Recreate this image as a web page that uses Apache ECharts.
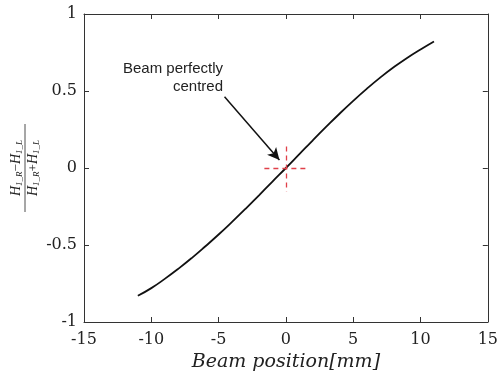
<!DOCTYPE html>
<html><head><meta charset="utf-8">
<script src="https://cdn.jsdelivr.net/npm/echarts@6/dist/echarts.min.js"></script>
<style>html,body{margin:0;padding:0;background:#fff}#c{width:501px;height:380px}</style>
</head><body><div id="c"></div>
<script>
var positions = [-11,-10,-9,-8,-7,-6,-5,-4,-3,-2,-1,0,1,2,3,4,5,6,7,8,9,10,11];
var ratio = [-0.83,-0.78,-0.72,-0.655,-0.585,-0.51,-0.432,-0.35,-0.265,-0.177,-0.088,0,0.09,0.18,0.268,0.354,0.436,0.514,0.587,0.654,0.715,0.77,0.822];
var xTicks = [-15,-10,-5,0,5,10,15];
var yTicks = [-1,-0.5,0,0.5,1];
var arrowFrom = [-4.56, 0.463];
var arrowTo = [-0.48, 0.052];
var crossH = [[-1.6, 0], [1.5, 0]];
var crossV = [[0, 0.14], [0, -0.155]];

var chart = echarts.init(document.getElementById('c'));
var serif = 'DejaVu Serif';
var axisBase = {
  type: 'value',
  axisLine: {show: true, onZero: false, lineStyle: {color: '#333', width: 1}},
  axisTick: {show: true, inside: true, length: 5, lineStyle: {color: '#333'}},
  splitLine: {show: false}
};
var fracRich = {
  h: {fontFamily: 'Liberation Serif', fontStyle: 'italic', fontSize: 14, fill: '#222', lineHeight: 15},
  s: {fontFamily: 'Liberation Serif', fontStyle: 'italic', fontSize: 9, fill: '#222', verticalAlign: 'bottom', lineHeight: 11},
  o: {fontFamily: 'Liberation Serif', fontSize: 13, fill: '#222', lineHeight: 15}
};
chart.setOption({
  animation: false,
  grid: {left: 84, right: 12, top: 14, bottom: 58},
  xAxis: [
    Object.assign({}, axisBase, {
      min: -15, max: 15, interval: 5, position: 'bottom',
      axisLabel: {color: '#222', fontFamily: serif, fontSize: 16, margin: 10},
      name: 'Beam position[mm]', nameLocation: 'middle', nameGap: 29,
      nameTextStyle: {color: '#222', fontFamily: serif, fontStyle: 'italic', fontSize: 19}
    }),
    Object.assign({}, axisBase, {
      min: -15, max: 15, interval: 5, position: 'top',
      axisLabel: {show: false}
    })
  ],
  yAxis: [
    Object.assign({}, axisBase, {
      min: -1, max: 1, interval: 0.5, position: 'left',
      axisLabel: {color: '#222', fontFamily: serif, fontSize: 16, margin: 7}
    }),
    Object.assign({}, axisBase, {
      min: -1, max: 1, interval: 0.5, position: 'right',
      axisLabel: {show: false}
    })
  ],
  series: [{
    type: 'line',
    data: positions.map(function (p, i) { return [p, ratio[i]]; }),
    smooth: 0.5,
    showSymbol: false,
    lineStyle: {color: '#111', width: 1.8},
    markLine: {
      silent: true,
      animation: false,
      label: {show: false},
      data: [
        [{coord: arrowFrom, symbol: 'none', lineStyle: {color: '#111', width: 1.5, type: 'solid'}},
         {coord: arrowTo, symbol: 'arrow', symbolSize: [9, 12]}],
        [{coord: crossH[0], symbol: 'none', lineStyle: {color: '#e0404a', width: 1.3, type: [5, 4]}},
         {coord: crossH[1], symbol: 'none'}],
        [{coord: crossV[0], symbol: 'none', lineStyle: {color: '#e0404a', width: 1.3, type: [5, 4]}},
         {coord: crossV[1], symbol: 'none'}]
      ]
    }
  }],
  graphic: [
    {
      type: 'text', x: 223, y: 78,
      style: {
        text: 'Beam perfectly\ncentred', align: 'right', verticalAlign: 'middle',
        fontFamily: 'Liberation Sans', fontSize: 15, lineHeight: 18.5, fill: '#222'
      }
    },
    {
      type: 'group', x: 25, y: 168, rotation: Math.PI / 2,
      children: [
        {type: 'text', x: 0, y: -1, style: {
          text: '{h|H}{s|1_R}{o|−}{h|H}{s|1_L}', align: 'center', verticalAlign: 'bottom', rich: fracRich
        }},
        {type: 'line', shape: {x1: -44, y1: 0, x2: 44, y2: 0}, style: {stroke: '#222', lineWidth: 0.8}},
        {type: 'text', x: 0, y: 1, style: {
          text: '{h|H}{s|1_R}{o|+}{h|H}{s|1_L}', align: 'center', verticalAlign: 'top', rich: fracRich
        }}
      ]
    }
  ]
});
</script>
</body></html>
